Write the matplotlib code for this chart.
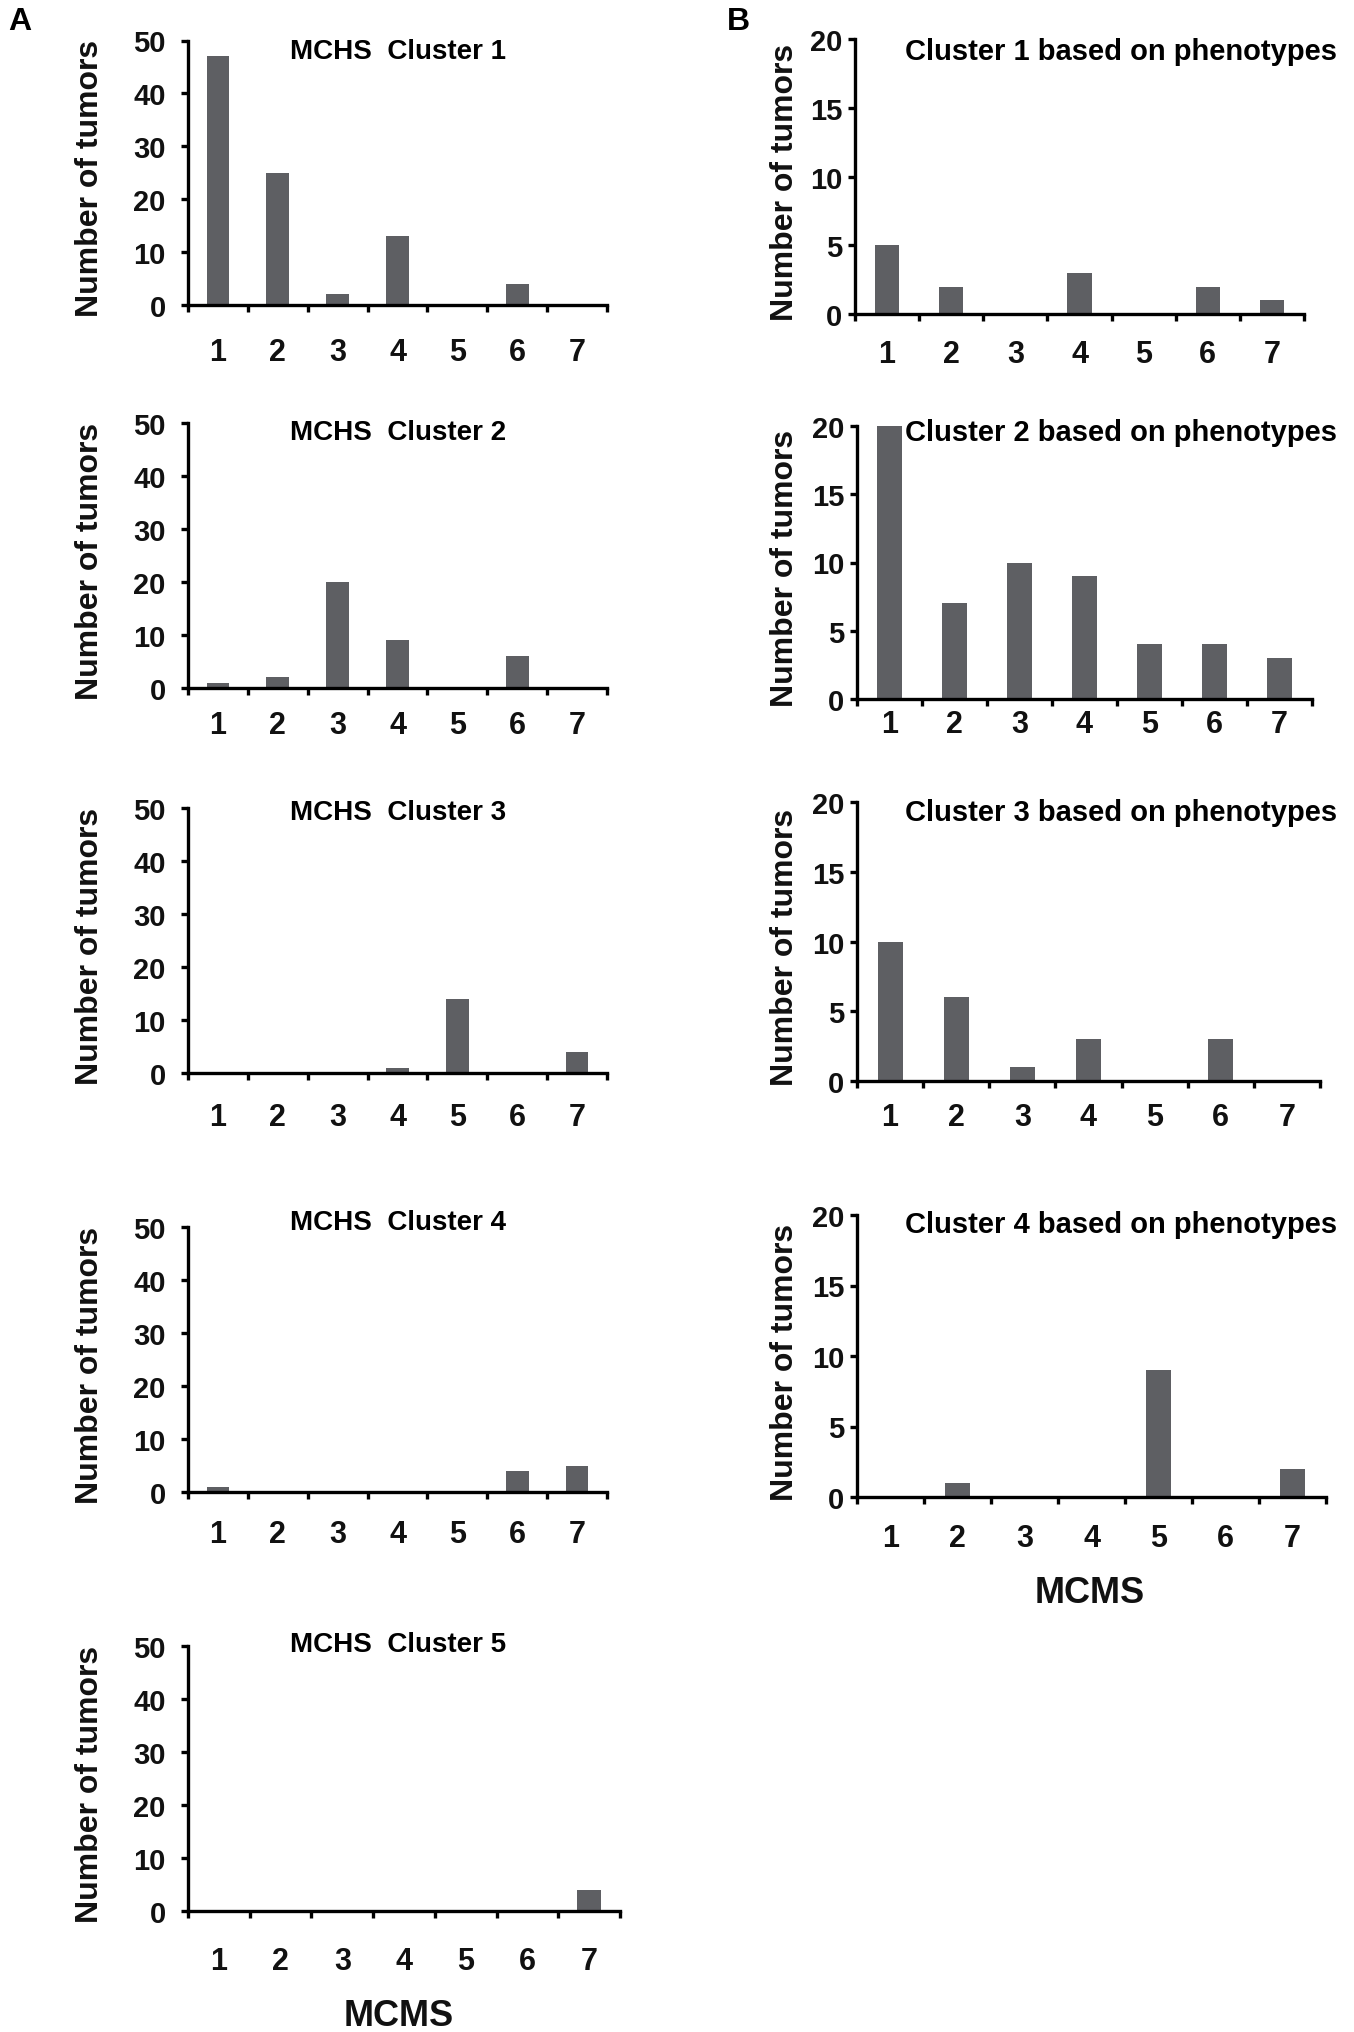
import numpy as np
import matplotlib
matplotlib.use('Agg')
import matplotlib.pyplot as plt

plt.rcParams['font.family'] = ['Liberation Sans', 'DejaVu Sans']
plt.rcParams['font.weight'] = 'bold'

#%% data
mcms = [1, 2, 3, 4, 5, 6, 7]
mcms_labels = ['1', '2', '3', '4', '5', '6', '7']

mchs_c1 = [47, 25, 2, 13, 0, 4, 0]
mchs_c2 = [1, 2, 20, 9, 0, 6, 0]
mchs_c3 = [0, 0, 0, 1, 14, 0, 4]
mchs_c4 = [1, 0, 0, 0, 0, 4, 5]
mchs_c5 = [0, 0, 0, 0, 0, 0, 4]

pheno_c1 = [5, 2, 0, 3, 0, 2, 1]
pheno_c2 = [20, 7, 10, 9, 4, 4, 3]
pheno_c3 = [10, 6, 1, 3, 0, 3, 0]
pheno_c4 = [0, 1, 0, 0, 9, 0, 2]

mchs_titles = ['MCHS  Cluster 1', 'MCHS  Cluster 2', 'MCHS  Cluster 3',
               'MCHS  Cluster 4', 'MCHS  Cluster 5']
pheno_titles = ['Cluster 1 based on phenotypes', 'Cluster 2 based on phenotypes',
                'Cluster 3 based on phenotypes', 'Cluster 4 based on phenotypes']

#%% layout (pixels)
W, H = 1354, 2033
bar_col = '#5e5f63'
txt_col = '#111111'

fig = plt.figure(figsize=(W / 100, H / 100), dpi=100)


def px_box(l, r, t, b):
    return [l / W, 1 - b / H, (r - l) / W, (b - t) / H]


def panel(box, vals, ymax, ystep, title, title_xy, title_size, ylab_x, xlab_off, ypad):
    ax = fig.add_axes(px_box(*box))
    ax.bar(mcms, vals, width=0.38, color=bar_col, zorder=2)
    ax.set_xlim(0.5, 7.5)
    ax.set_ylim(0, ymax)
    ax.set_yticks(np.arange(0, ymax + 1, ystep))
    ax.set_xticks(np.arange(0.5, 8, 1))
    ax.set_xticklabels([])
    ax.set_xticks(mcms, minor=True)
    ax.set_xticklabels(mcms_labels, minor=True, fontsize=22, fontweight='bold',
                       color=txt_col)
    ax.tick_params(axis='x', which='major', direction='out', length=5, width=2.4)
    ax.tick_params(axis='x', which='minor', length=0, pad=xlab_off / 1.389)
    ax.tick_params(axis='y', direction='out', length=5, width=2.4, pad=ypad,
                   labelsize=21, labelcolor=txt_col)
    for lab in ax.get_yticklabels():
        lab.set_fontweight('bold')
    ax.spines['top'].set_visible(False)
    ax.spines['right'].set_visible(False)
    ax.spines['left'].set_linewidth(2.4)
    ax.spines['bottom'].set_linewidth(2.4)
    fig.text(title_xy[0] / W, 1 - title_xy[1] / H, title, fontsize=title_size,
             fontweight='bold', ha='center', va='center', color='black')
    cy = (box[2] + box[3]) / 2 + 5
    fig.text(ylab_x / W, 1 - cy / H, 'Number of tumors', fontsize=23,
             fontweight='bold', rotation=90, ha='center', va='center',
             color=txt_col)
    return ax


# column A
mchs_data = [mchs_c1, mchs_c2, mchs_c3, mchs_c4, mchs_c5]
a_boxes = [(188, 607, 41.5, 306), (188, 607, 424, 689), (188, 607, 809, 1074),
           (188, 607, 1228, 1493), (188, 620, 1647, 1912)]
a_title_y = [52, 433, 813, 1223, 1645]
a_xoff = [32, 22, 29, 27, 35]
for i in range(5):
    panel(a_boxes[i], mchs_data[i], 50, 10, mchs_titles[i], (398, a_title_y[i]),
          20, 90, a_xoff[i], 11)

# column B
pheno_data = [pheno_c1, pheno_c2, pheno_c3, pheno_c4]
b_boxes = [(855, 1304, 40, 315), (857, 1312, 427, 700), (857, 1320, 803, 1082),
           (857, 1326, 1216, 1498)]
b_title_y = [52, 433, 813, 1225]
b_xoff = [25, 10, 21, 26]
for i in range(4):
    panel(b_boxes[i], pheno_data[i], 20, 5, pheno_titles[i], (1121, b_title_y[i]),
          21, 785, b_xoff[i], 4)

fig.text(399 / W, 1 - 2017 / H, 'MCMS', fontsize=26, fontweight='bold',
         ha='center', va='center', color=txt_col)
fig.text(1090 / W, 1 - 1594 / H, 'MCMS', fontsize=26, fontweight='bold',
         ha='center', va='center', color=txt_col)
fig.text(20 / W, 1 - 22 / H, 'A', fontsize=23, fontweight='bold',
         ha='center', va='center')
fig.text(738 / W, 1 - 22 / H, 'B', fontsize=23, fontweight='bold',
         ha='center', va='center')

fig.savefig('out.png', dpi=100)
